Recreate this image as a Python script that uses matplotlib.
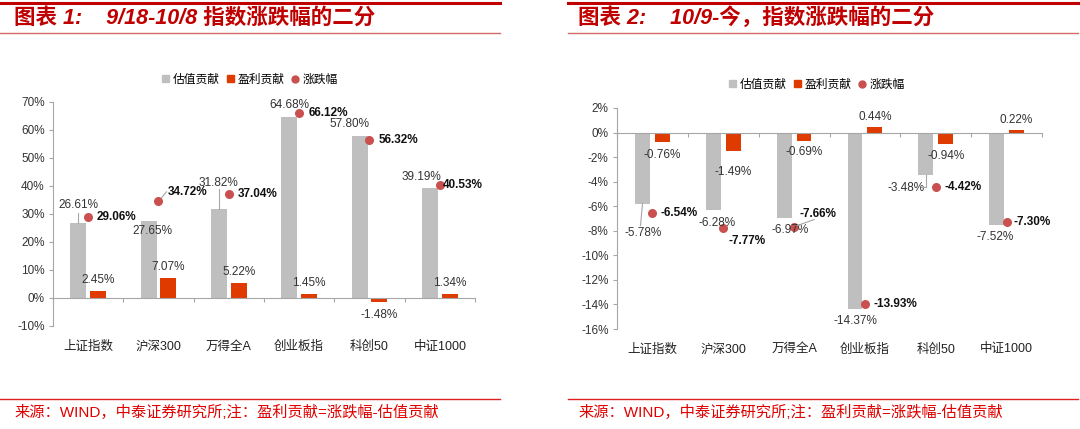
import matplotlib
matplotlib.use("Agg")
import matplotlib.pyplot as plt
from matplotlib.lines import Line2D
from matplotlib.patches import Patch
import numpy as np

plt.rcParams['font.family'] = ['Liberation Sans', 'Noto Sans CJK SC', 'DejaVu Sans']

categories = ['上证指数', '沪深300', '万得全A', '创业板指', '科创50', '中证1000']

# Chart 1: 9/18-10/8
val1 = [26.61, 27.65, 31.82, 64.68, 57.80, 39.19]
earn1 = [2.45, 7.07, 5.22, 1.45, -1.48, 1.34]
chg1 = [29.06, 34.72, 37.04, 66.12, 56.32, 40.53]

# Chart 2: 10/9-今
val2 = [-5.78, -6.28, -6.97, -14.37, -3.48, -7.52]
earn2 = [-0.76, -1.49, -0.69, 0.44, -0.94, 0.22]
chg2 = [-6.54, -7.77, -7.66, -13.93, -4.42, -7.30]

legend_labels = ['估值贡献', '盈利贡献', '涨跌幅']
titles = ['图表 1:    9/18-10/8 指数涨跌幅的二分', '图表 2:    10/9-今，指数涨跌幅的二分']
source = '来源：WIND，中泰证券研究所;注：盈利贡献=涨跌幅-估值贡献'

GRAY = '#BFBFBF'
RED = '#DF3A00'
DOT = '#C9504F'
TITLE_RED = '#C00000'
AX = '#A6A6A6'
CJK = ['Liberation Sans', 'Noto Sans CJK SC']

fig = plt.figure(figsize=(10.8, 4.29), dpi=100)

def px(x, y):
    return x / 1080.0, 1 - y / 429.0

def draw_chart(rect, val, earn, chg, ylim, yticks, bw, off,
               val_off, earn_off, chg_off, leaders, legend_xy):
    ax = fig.add_axes(rect)
    x = np.arange(len(categories))
    ax.bar(x - off, val, width=bw, color=GRAY, zorder=2)
    ax.bar(x + off, earn, width=bw, color=RED, zorder=2)
    ax.scatter(x, chg, s=30, color=DOT, zorder=3)
    ax.set_xlim(-0.5, len(categories) - 0.5)
    ax.set_ylim(*ylim)
    ax.set_yticks(yticks)
    ax.set_yticklabels([f'{t:g}%' for t in yticks], fontsize=8.5, color='#333333')
    for s in ['top', 'right']:
        ax.spines[s].set_visible(False)
    ax.spines['left'].set_color(AX)
    ax.spines['bottom'].set_color(AX)
    ax.spines['bottom'].set_position(('data', 0))
    ax.set_xticks(np.arange(len(categories) + 1) - 0.5)
    ax.set_xticklabels([])
    ax.tick_params(axis='x', length=3, color=AX, direction='out')
    ax.tick_params(axis='y', length=3, color=AX, pad=3)
    for i, c in enumerate(categories):
        ax.text(i, -0.065, c, transform=ax.get_xaxis_transform(), ha='center',
                va='top', fontsize=9, color='#222222', family=CJK)
    for i in range(len(categories)):
        ax.annotate(f'{val[i]:.2f}%', (i - off, val[i]), xytext=val_off[i],
                    textcoords='offset pixels', ha='center', va='center',
                    fontsize=8.5, color='#333333', zorder=4)
        ax.annotate(f'{earn[i]:.2f}%', (i + off, earn[i]), xytext=earn_off[i],
                    textcoords='offset pixels', ha='center', va='center',
                    fontsize=8.5, color='#333333', zorder=4)
        ax.annotate(f'{chg[i]:.2f}%', (i, chg[i]), xytext=chg_off[i],
                    textcoords='offset pixels', ha='center', va='center',
                    fontsize=8.5, fontweight='bold', color='#111111', zorder=4)
    for (xa, ya, dx0, dy0, dx1, dy1) in leaders:
        p0 = ax.transData.transform((xa, ya))
        inv = ax.transData.inverted()
        a = inv.transform((p0[0] + dx0, p0[1] + dy0))
        b = inv.transform((p0[0] + dx1, p0[1] + dy1))
        ax.plot([a[0], b[0]], [a[1], b[1]], color='#A6A6A6', lw=0.8, zorder=4)
    handles = [Patch(color=GRAY), Patch(color=RED),
               Line2D([], [], marker='o', ls='', color=DOT, markersize=5)]
    fig.legend(handles, legend_labels, loc='center', bbox_to_anchor=px(*legend_xy),
               ncol=3, frameon=False, handlelength=0.6, handleheight=0.6,
               handletextpad=0.3, columnspacing=0.6,
               prop={'family': 'Noto Sans CJK SC', 'size': 8.5})
    return ax

# Left chart
l, t = px(53, 102)
r, b = px(475, 326)
draw_chart([l, b, r - l, t - b], val1, earn1, chg1, (-10, 70), list(range(-10, 71, 10)),
           0.23, 0.14,
           val_off=[(0, 18), (4, -10), (-1, 26), (0, 12), (-10, 12), (-9, 11)],
           earn_off=[(0, 11), (0, 11), (0, 11), (0, 11), (0, -13), (0, 11)],
           chg_off=[(28, 0), (29, 9), (29, 0), (29, 0), (29, 0), (23, 0)],
           leaders=[(-0.14, 26.61, 0, 0, 0, 10), (1, 34.72, 3, 3, 8, 9),
                    (2 - 0.14, 31.82, 0, 0, 0, 20)],
           legend_xy=(250, 79))

# Right chart
l, t = px(617, 108)
r, b = px(1042, 329)
draw_chart([l, b, r - l, t - b], val2, earn2, chg2, (-16, 2), list(range(-16, 3, 2)),
           0.21, 0.14,
           val_off=[(1, -29), (4, -13), (6, -12), (0, -12), (-20, -13), (-2, -12)],
           earn_off=[(0, -13), (0, -21), (0, -11), (0, 10), (0, -12), (0, 10)],
           chg_off=[(27, 0), (24, -13), (24, 13), (30, 0), (27, 0), (26, 0)],
           leaders=[(-0.14, -5.78, 0, 0, -2, -22), (2, -7.66, 3, 1, 20, 7),
                    (4 - 0.14, -3.48, 0, 0, 0, -12), (4 - 0.14, -3.48, 0, -12, -5, -12)],
           legend_xy=(817, 84))

# Titles, rules, footers
for (x0, x1, tx, title) in [(0, 500, 14, titles[0]), (568, 1078, 578, titles[1])]:
    fx0 = x0 / 1080.0
    fx1 = x1 / 1080.0
    fig.add_artist(Line2D([fx0, fx1], [1 - 3 / 429.0] * 2, color=TITLE_RED, lw=2.2))
    fig.add_artist(Line2D([fx0, fx1], [1 - 33 / 429.0] * 2, color='#D46A6A', lw=1.0))
    fig.text(*px(tx, 18), title, ha='left', va='center', fontsize=15.5,
             fontweight='bold', color=TITLE_RED, family=['Liberation Sans', 'Noto Sans CJK SC'],
             style='italic')
    fig.add_artist(Line2D([fx0, fx1], [1 - 399 / 429.0] * 2, color='#E02020', lw=1.0))
    fig.text(*px(tx, 412), source, ha='left', va='center', fontsize=11,
             color='#E00000', family=['Liberation Sans', 'Noto Sans CJK SC'])

fig.savefig('out.png', dpi=100, facecolor='white')
